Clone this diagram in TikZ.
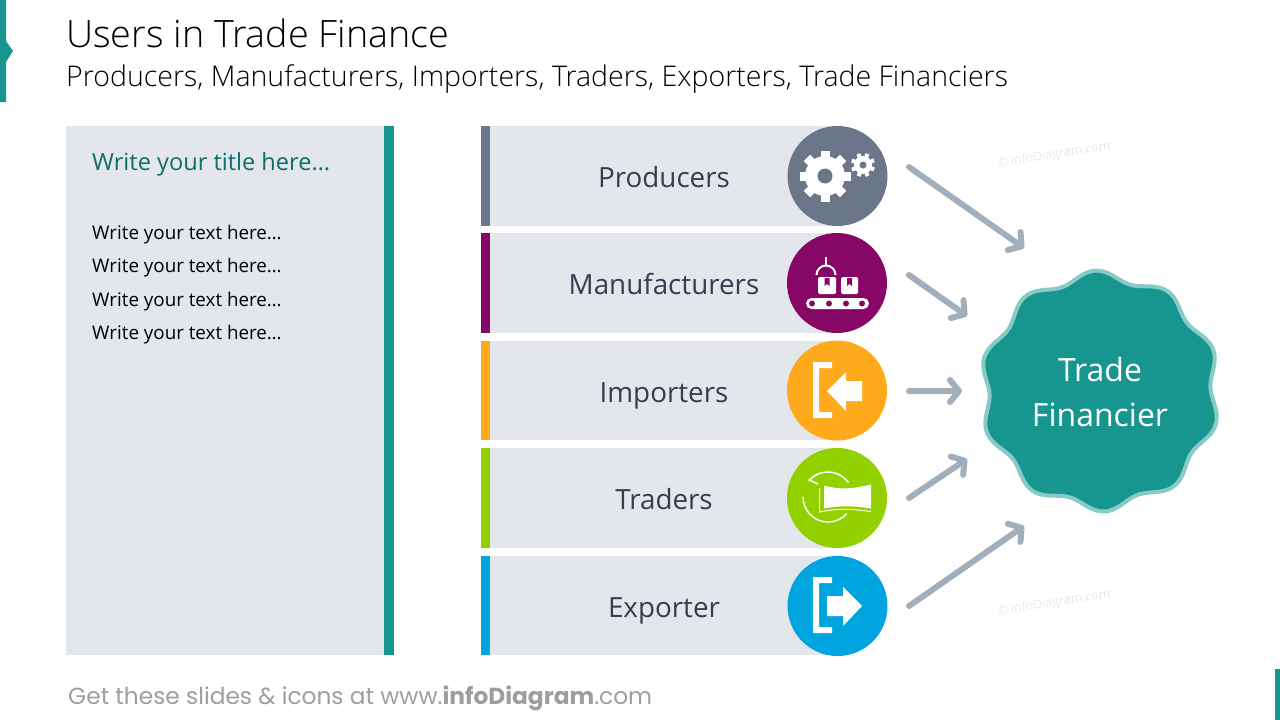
\documentclass[tikz,border=0pt]{standalone}
\usepackage{fontspec}
\setmainfont{Open Sans}
\newfontfamily\lightfont{Open Sans Light}
\newfontfamily\footfont{Poppins}
\usetikzlibrary{arrows.meta}
\definecolor{TEAL}{HTML}{16968F}
\definecolor{TEALD}{HTML}{0F6E69}
\definecolor{TEALL}{HTML}{88CAC6}
\definecolor{PANEL}{HTML}{E3E6EB}
\definecolor{INK}{HTML}{333F50}
\definecolor{SLATE}{HTML}{6B7689}
\definecolor{PLUM}{HTML}{860766}
\definecolor{AMBER}{HTML}{FFA91C}
\definecolor{LIME}{HTML}{92D000}
\definecolor{SKY}{HTML}{00A5E0}
\definecolor{ARROW}{HTML}{A1AEBC}
\definecolor{MARK}{HTML}{E1E8F2}
\begin{document}
\begin{tikzpicture}[x=1pt, y=-1pt]
      \tikzstyle{FILL} = [fill=PANEL, draw=none, inner sep=0pt, outer sep=0pt, anchor=north west]
      \tikzstyle{EDGEBAR} = [draw=none, inner sep=0pt, outer sep=0pt, anchor=north west, minimum width=9pt]
      \tikzstyle{DISC} = [circle, draw=none, inner sep=0pt, outer sep=0pt, minimum size=100pt]
      \tikzstyle{LABEL} = [text=INK, inner sep=0pt, text height=21pt, text depth=6pt, font=\fontsize{27.8}{34}\selectfont]
      \tikzstyle{BODY} = [anchor=west, inner sep=0pt, text height=15pt, text depth=4pt, font=\fontsize{18.8}{24}\selectfont]
      \tikzstyle{MARKTXT} = [text=MARK, rotate=9, font=\fontsize{12.5}{15}\selectfont]
      \tikzstyle{ARW} = [draw=ARROW, line width=6pt, line cap=round, -{Straight Barb[length=9pt, width=22pt, round]}]
      \tikzstyle{ICON} = [fill=white, draw=none]
      \tikzstyle{ICONL} = [draw=white, line width=2pt]

      \useasboundingbox (0,0) rectangle (1280,720);

      %%%%% HEADER
      \fill[TEAL] (0,0) -- (6,0) -- (6,41) -- (13,51) -- (6,62) -- (6,102) -- (0,102) -- cycle;
      \fill[TEAL] (1275,669) rectangle (1280,720);
      \node[anchor=west, inner sep=0pt, font=\lightfont\fontsize{37.7}{44}\selectfont] (title) at (66,33) {Users in Trade Finance};
      \node[anchor=west, inner sep=0pt, font=\lightfont\fontsize{28.5}{32}\selectfont] (sub) at (66,79) {Producers, Manufacturers, Importers, Traders, Exporters, Trade Financiers};

      %%%%% TEXT PANEL
      \node[FILL, minimum width=318pt, minimum height=529pt] (p0) at (66,126) {};
      \node[EDGEBAR, fill=TEAL, minimum width=10pt, minimum height=529pt] (p1) at (384,126) {};
      \node[anchor=west, inner sep=0pt, text=TEALD, font=\fontsize{23.6}{28}\selectfont] (t0) at (92,164) {Write your title here…};
      \node[BODY] (t1) at (92,234) {Write your text here…};
      \node[BODY] (t2) at (92,267) {Write your text here…};
      \node[BODY] (t3) at (92,301) {Write your text here…};
      \node[BODY] (t4) at (92,334) {Write your text here…};

      %%%%% ROWS
      \node[FILL, minimum width=356pt, minimum height=100pt] (b1) at (481,126) {};
      \node[FILL, minimum width=356pt, minimum height=100pt] (b2) at (481,233) {};
      \node[FILL, minimum width=356pt, minimum height=99pt] (b3) at (481,341) {};
      \node[FILL, minimum width=356pt, minimum height=100pt] (b4) at (481,448) {};
      \node[FILL, minimum width=356pt, minimum height=99pt] (b5) at (481,556) {};

      \node[EDGEBAR, fill=SLATE, minimum height=100pt] (e1) at (481,126) {};
      \node[EDGEBAR, fill=PLUM, minimum height=100pt] (e2) at (481,233) {};
      \node[EDGEBAR, fill=AMBER, minimum height=99pt] (e3) at (481,341) {};
      \node[EDGEBAR, fill=LIME, minimum height=100pt] (e4) at (481,448) {};
      \node[EDGEBAR, fill=SKY, minimum height=99pt] (e5) at (481,556) {};

      \node[LABEL] (l1) at (664,179.5) {Producers};
      \node[LABEL] (l2) at (664,286.5) {Manufacturers};
      \node[LABEL] (l3) at (664,394.5) {Importers};
      \node[LABEL] (l4) at (664,501.5) {Traders};
      \node[LABEL] (l5) at (664,609.5) {Exporter};

      \node[DISC, fill=SLATE] (c1) at (837.5,176) {};
      \node[DISC, fill=PLUM] (c2) at (837,283) {};
      \node[DISC, fill=AMBER] (c3) at (837,390.5) {};
      \node[DISC, fill=LIME] (c4) at (837,498) {};
      \node[DISC, fill=SKY] (c5) at (837.5,606) {};

      %%%%% ICONS
      % gears
      \fill[white] (825,176) circle (20);
      \foreach \a in {0,45,...,315}
        \draw[white, line width=9pt] (825,176) ++(\a:18) -- ++(\a:7.5);
      \fill[SLATE] (825,176) circle (7.5);
      \fill[white] (863,165) circle (9);
      \foreach \a in {22,67,...,337}
        \draw[white, line width=4pt] (863,165) ++(\a:8) -- ++(\a:4);
      \fill[SLATE] (863,165) circle (3.5);

      % conveyor
      \draw[ICONL] (826,257) -- (826,266);
      \draw[ICONL] (816.5,275) arc (-180:0:9.5);
      \fill[ICON, rounded corners=1.5pt] (818,277) rectangle (836,294);
      \fill[ICON, rounded corners=1.5pt] (841,277) rectangle (858,294);
      \fill[PLUM] (824.5,278) -- (829.5,278) -- (829.5,286) -- (827,284) -- (824.5,286) -- cycle;
      \fill[PLUM] (847,278) -- (852,278) -- (852,286) -- (849.5,284) -- (847,286) -- cycle;
      \fill[ICON, rounded corners=5.5pt] (806,298) rectangle (869,309);
      \fill[PLUM] (812,303.5) circle (3);
      \fill[PLUM] (829,303.5) circle (3);
      \fill[PLUM] (846,303.5) circle (3);
      \fill[PLUM] (862,303.5) circle (3);

      % import
      \fill[ICON] (832,362) -- (813,362) -- (813,418) -- (832,418) -- (832,412) -- (819,412) -- (819,368) -- (832,368) -- cycle;
      \fill[ICON] (827,391) -- (846,372) -- (846,381) -- (862,381) -- (862,401) -- (846,401) -- (846,411) -- cycle;

      % trade
      \draw[white, line width=1.5pt] (828,497) ++(-140:25) arc (-140:-35:25);
      \draw[white, line width=1.5pt] (828,497) ++(-180:25) arc (-180:-318:25);
      \draw[white, line width=1.5pt] (817,474) -- (809,480) -- (818,484);
      \fill[LIME] (818,486) rectangle (873,513);
      \fill[ICON] (824,485.5) .. controls (840,490) and (852,489) .. (871,484.5) -- (871,508.5) .. controls (852,505.5) and (840,505.5) .. (824,508.5) -- cycle;
      \draw[white, line width=1pt] (819.5,488) -- (819.5,512) .. controls (840,508) and (852,509) .. (871,511.5);

      % export
      \fill[ICON] (832,577) -- (813,577) -- (813,633) -- (832,633) -- (832,627) -- (819,627) -- (819,583) -- (832,583) -- cycle;
      \fill[ICON] (862,606) -- (843,587) -- (843,596) -- (827,596) -- (827,616) -- (843,616) -- (843,626) -- cycle;

      %%%%% HUB
      \draw[fill=TEAL, draw=TEALL, line width=4pt, variable=\t, domain=0:360, samples=241]
        plot ({1100+(115.5+5*cos(10*(\t-92)))*cos(\t)}, {391-(115.5+5*cos(10*(\t-92)))*sin(\t)}) -- cycle;
      \node[align=center, text=white, font=\fontsize{32}{45}\selectfont] (hub) at (1100,392) {Trade\\Financier};

      %%%%% EDGES
      \coordinate (s1) at (909,167);
      \coordinate (s2) at (909,275);
      \coordinate (s3) at (909,391);
      \coordinate (s4) at (909,498);
      \coordinate (s5) at (909,606);
      \coordinate (d1) at (1024,248);
      \coordinate (d2) at (967,316);
      \coordinate (d3) at (962,391);
      \coordinate (d4) at (967,459);
      \coordinate (d5) at (1024,526);
      \draw[ARW] (s1) -- (d1);
      \draw[ARW] (s2) -- (d2);
      \draw[ARW] (s3) -- (d3);
      \draw[ARW] (s4) -- (d4);
      \draw[ARW] (s5) -- (d5);

      %%%%% FOOTER
      \node[MARKTXT] (m1) at (1054,155) {© infoDiagram.com};
      \node[MARKTXT] (m2) at (1054,603) {© infoDiagram.com};
      \node[anchor=west, inner sep=0pt, text=black!38, font=\footfont\fontsize{23.3}{28}\selectfont] (foot) at (68,698) {Get these slides \& icons at www.\textbf{infoDiagram}.com};
    \end{tikzpicture}
\end{document}
